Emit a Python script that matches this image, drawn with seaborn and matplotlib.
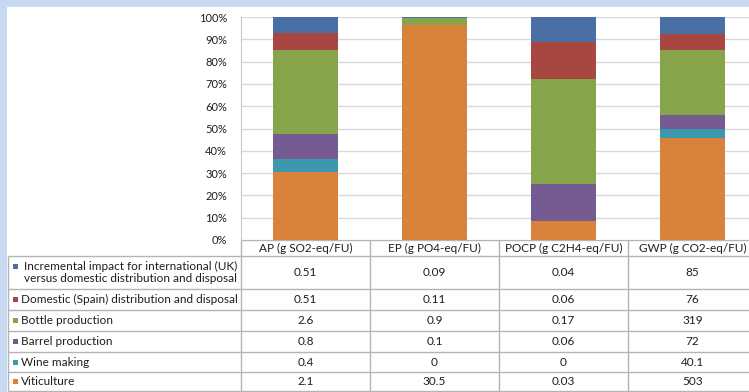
import numpy as np
import pandas as pd
import matplotlib
matplotlib.use("Agg")
import matplotlib.pyplot as plt
import seaborn as sns
from matplotlib.patches import Rectangle

# impact categories (columns of the data table)
impacts = ["AP (g SO2-eq/FU)", "EP (g PO4-eq/FU)", "POCP (g C2H4-eq/FU)", "GWP (g CO2-eq/FU)"]

# life-cycle stages, top of the stack first
stages = ["Incremental impact for international (UK)\nversus domestic distribution and disposal",
          "Domestic (Spain) distribution and disposal",
          "Bottle production",
          "Barrel production",
          "Wine making",
          "Viticulture"]

incremental = [0.51, 0.09, 0.04, 85]
domestic = [0.51, 0.11, 0.06, 76]
bottle = [2.6, 0.9, 0.17, 319]
barrel = [0.8, 0.1, 0.06, 72]
wine_making = [0.4, 0, 0, 40.1]
viticulture = [2.1, 30.5, 0.03, 503]

colors = ["#4a6fa5", "#a84642", "#86a44a", "#765a92", "#3d97ae", "#d8823b"]

values = pd.DataFrame([incremental, domestic, bottle, barrel, wine_making, viticulture],
                      index=stages, columns=impacts)
shares = values / values.sum() * 100
# cumulative from the bottom (viticulture) upwards
tops = shares.iloc[::-1].cumsum().iloc[::-1]

sns.set_style("white")
plt.rcParams["font.family"] = ["Lato", "DejaVu Sans"]
txt = "#1e1e1e"

W, H = 749, 392
fig = plt.figure(figsize=(W / 100, H / 100), dpi=100)

# overlay in pixel coordinates for frame and data table
ov = fig.add_axes([0, 0, 1, 1], zorder=0)
ov.set_xlim(0, W)
ov.set_ylim(H, 0)
ov.axis("off")
band = "#c6d9f1"
ov.add_patch(Rectangle((0, 0), 7, H, color=band, lw=0))
ov.add_patch(Rectangle((0, 0), W, 7, color=band, lw=0))

# chart
x0, top, bot = 241, 17, 240
colw = 129
ax = fig.add_axes([x0 / W, (H - bot) / H, (W - x0) / W, (bot - top) / H], zorder=1)
for stage, c in zip(stages, colors):
    sns.barplot(x=impacts, y=tops.loc[stage].values, order=impacts, color=c,
                saturation=1, width=0.51, linewidth=0, ax=ax, zorder=3)
ax.set_xlim(-0.5, -0.5 + (W - x0) / colw)
ax.set_ylim(0, 100)
ax.set_yticks(np.arange(0, 101, 10))
ax.set_yticklabels([f"{t}%" for t in range(0, 101, 10)], fontsize=8, color=txt)
ax.set_xticks([])
ax.set_xlabel("")
ax.set_ylabel("")
ax.tick_params(axis="y", length=0, pad=10)
ax.grid(axis="y", color="#d9d9d9", lw=1, zorder=0)
for s in ["top", "right", "bottom"]:
    ax.spines[s].set_visible(False)
ax.spines["left"].set_color("#c8c8c8")

# data table
rows = [240, 256, 289, 310, 331, 352, 372, 391]
cols = [8] + [x0 + i * colw for i in range(5)]
lc = "#b4b4b4"
ov.hlines(rows[0], x0, W, color=lc, lw=1)
ov.hlines(rows[1:], 8, W, color=lc, lw=1)
ov.vlines(8, rows[1], rows[-1], color=lc, lw=1)
ov.vlines(cols[1:], rows[0], rows[-1], color=lc, lw=1)

fs = 8.5
for j, name in enumerate(impacts):
    cx = cols[j + 1] + colw / 2
    ov.text(cx, (rows[0] + rows[1]) / 2, name, ha="center", va="center", fontsize=fs, color=txt)
    for i, stage in enumerate(stages):
        cy = (rows[i + 1] + rows[i + 2]) / 2
        ov.text(cx, cy, f"{values.loc[stage, name]:g}", ha="center", va="center",
                fontsize=fs, color=txt)

for i, (stage, c) in enumerate(zip(stages, colors)):
    cy = (rows[i + 1] + rows[i + 2]) / 2
    if "\n" in stage:
        ov.text(237, cy, stage, ha="right", va="center", multialignment="right",
                fontsize=fs, color=txt, linespacing=1.1)
        ky = cy - 6.5
    else:
        ov.text(21, cy, stage, ha="left", va="center", fontsize=fs, color=txt)
        ky = cy
    ov.add_patch(Rectangle((12.5, ky - 2.5), 5, 5, color=c, lw=0))

fig.savefig("out.png", dpi=100)
